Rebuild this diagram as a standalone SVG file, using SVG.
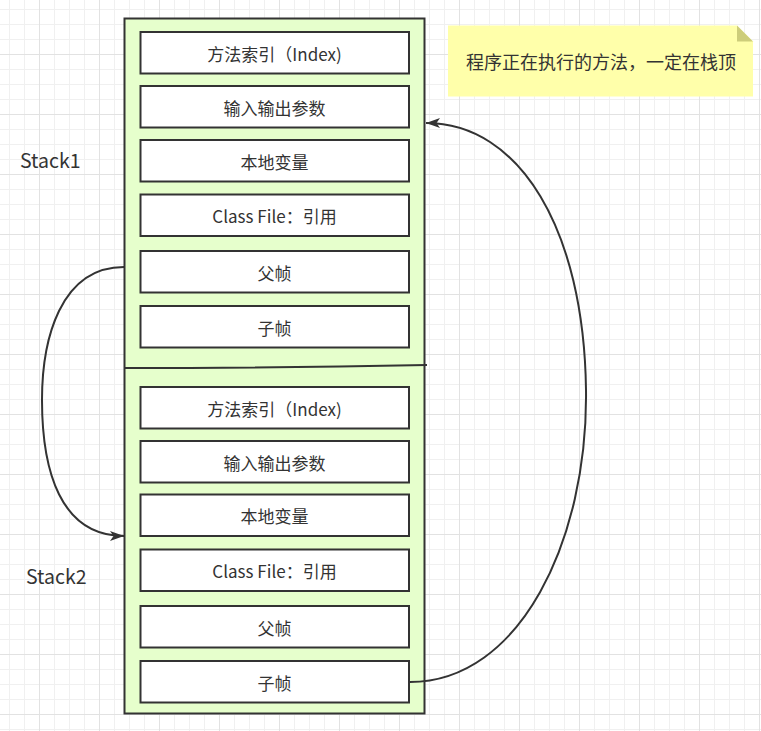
<svg xmlns="http://www.w3.org/2000/svg" width="761" height="731" viewBox="0 0 761 731">
<defs>
<pattern id="minor" patternUnits="userSpaceOnUse" x="0" y="0" width="15" height="15">
<path d="M9.5 0V15M0 9.5H15" stroke="#f0f0f0" stroke-width="1" fill="none"/>
</pattern>
<pattern id="major" patternUnits="userSpaceOnUse" x="0" y="0" width="60" height="60">
<path d="M39.5 0V60M0 54.5H60" stroke="#e2e2e2" stroke-width="1" fill="none"/>
</pattern>
<marker id="arr" markerUnits="userSpaceOnUse" markerWidth="16" markerHeight="12" refX="14" refY="5" orient="auto">
<path d="M0 0L14 5L0 10L3.5 5Z" fill="#333333"/>
</marker>
<style>
.outer{fill:#e6ffcc;stroke:#333333;stroke-width:2}
.box{fill:#ffffff;stroke:#333333;stroke-width:2}
.t{font-family:"Noto Sans CJK SC","Noto Sans",sans-serif;font-size:17px;fill:#333333;text-anchor:middle;dominant-baseline:central}
.lbl{font-family:"Noto Sans CJK SC","Noto Sans",sans-serif;font-size:19.5px;fill:#333333}
.edge{fill:none;stroke:#333333;stroke-width:2}
</style>
</defs>
<rect width="761" height="731" fill="#ffffff"/>
<rect width="761" height="731" fill="url(#minor)"/>
<rect width="761" height="731" fill="url(#major)"/>

<g id="stack-frame">
<rect class="outer" x="124.5" y="18.5" width="300" height="695"/>
</g>
<g id="divider">
<path d="M124 368 Q 270 368 427 365" fill="none" stroke="#333333" stroke-width="2"/>
</g>

<g id="s1-index"><rect class="box" x="140.5" y="32" width="268.5" height="41.5"/><text class="t" x="274.5" y="53">方法索引（Index)</text></g>
<g id="s1-params"><rect class="box" x="140.5" y="86" width="268.5" height="41.5"/><text class="t" x="274.5" y="107">输入输出参数</text></g>
<g id="s1-locals"><rect class="box" x="140.5" y="140" width="268.5" height="41.5"/><text class="t" x="274.5" y="161">本地变量</text></g>
<g id="s1-classfile"><rect class="box" x="140.5" y="194.5" width="268.5" height="41.5"/><text class="t" x="274.5" y="215.5">Class File：引用</text></g>
<g id="s1-parent"><rect class="box" x="140.5" y="251" width="268.5" height="41.5"/><text class="t" x="274.5" y="272">父帧</text></g>
<g id="s1-child"><rect class="box" x="140.5" y="306" width="268.5" height="41.5"/><text class="t" x="274.5" y="327">子帧</text></g>

<g id="s2-index"><rect class="box" x="140.5" y="387" width="268.5" height="41.5"/><text class="t" x="274.5" y="408">方法索引（Index)</text></g>
<g id="s2-params"><rect class="box" x="140.5" y="441" width="268.5" height="41.5"/><text class="t" x="274.5" y="462">输入输出参数</text></g>
<g id="s2-locals"><rect class="box" x="140.5" y="494.5" width="268.5" height="41.5"/><text class="t" x="274.5" y="515.5">本地变量</text></g>
<g id="s2-classfile"><rect class="box" x="140.5" y="549.5" width="268.5" height="41.5"/><text class="t" x="274.5" y="570.5">Class File：引用</text></g>
<g id="s2-parent"><rect class="box" x="140.5" y="606" width="268.5" height="41.5"/><text class="t" x="274.5" y="627">父帧</text></g>
<g id="s2-child"><rect class="box" x="140.5" y="661" width="268.5" height="41.5"/><text class="t" x="274.5" y="682">子帧</text></g>

<g id="label-stack1"><text class="lbl" x="20" y="168">Stack1</text></g>
<g id="label-stack2"><text class="lbl" x="26" y="584">Stack2</text></g>

<g id="note">
<path d="M448 25.5H737L753 41.5V96.5H448Z" fill="#ffffaa"/>
<path d="M737 25.5L753 41.5H737Z" fill="#cdcd7a"/>
<text class="t" x="601" y="61" style="font-size:18px">程序正在执行的方法，一定在栈顶</text>
</g>

<g id="connectors">
<path class="edge" d="M124 267C60 267 42 340 42 400C42 470 60 536 124 536" marker-end="url(#arr)"/>
<path class="edge" d="M410 682C520 682 588 540 586 390C584 230 520 123 426 123" marker-end="url(#arr)"/>
</g>
</svg>
